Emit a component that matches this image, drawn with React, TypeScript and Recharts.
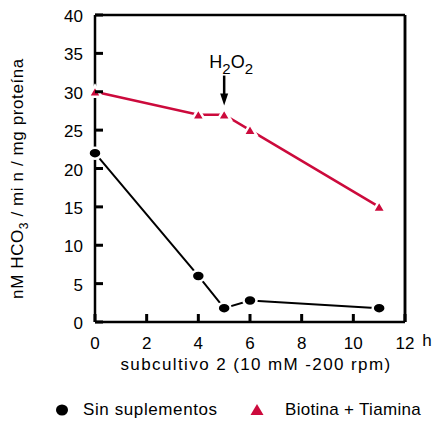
import React from 'react';
import {
  LineChart,
  Line,
  XAxis,
  YAxis,
  ReferenceLine,
  ReferenceDot,
} from 'recharts';

const hours = [0, 4, 5, 6, 11];
const sinSuplementos = [22, 6, 1.8, 2.8, 1.8];
const biotinaTiamina = [30, 27, 27, 25, 15];
const xTicks = [0, 2, 4, 6, 8, 10, 12];
const yTicks = [0, 5, 10, 15, 20, 25, 30, 35, 40];

const data = hours.map((h, i) => ({
  h,
  sin: sinSuplementos[i],
  bio: biotinaTiamina[i],
}));

const RED = '#cc0a3c';
const FONT = '"Liberation Sans", Arial, sans-serif';
const TICK = 8;
const FS = 17;

// ticks point inward, so they are drawn as small rects in the custom tick
const LeftTick = ({ x, y, payload }: any) => (
  <g>
    <rect x={x} y={y - 1.5} width={TICK} height={3} fill="#000" />
    <text x={x - 12} y={y + 7} textAnchor="end" fontSize={FS} fill="#000">
      {payload.value}
    </text>
  </g>
);

const RightTick = ({ x, y }: any) => (
  <rect x={x - TICK} y={y - 1.5} width={TICK} height={3} fill="#000" />
);

const BottomTick = ({ x, y, payload }: any) => (
  <g>
    <rect x={x - 1.5} y={y - TICK} width={3} height={TICK} fill="#000" />
    <text x={x} y={y + 27} textAnchor="middle" fontSize={FS} fill="#000">
      {payload.value}
    </text>
    {payload.value === 12 && (
      <text x={x + 22} y={y + 24} textAnchor="middle" fontSize={FS} fill="#000">
        h
      </text>
    )}
  </g>
);

const Circle = ({ cx, cy }: any) =>
  cx == null ? null : (
    <ellipse cx={cx} cy={cy} rx={6.5} ry={5.5} fill="#000" stroke="#fff" strokeWidth={2.5} />
  );

const Triangle = ({ cx, cy }: any) =>
  cx == null ? null : (
    <path
      d={`M${cx - 6.5},${cy + 5} L${cx + 6.5},${cy + 5} L${cx},${cy - 6} Z`}
      fill={RED}
      stroke="#fff"
      strokeWidth={2.5}
    />
  );

const Arrow = ({ cx, cy }: any) =>
  cx == null ? null : (
    <g>
      <rect x={cx - 1.25} y={cy - 30} width={2.5} height={22} fill="#000" />
      <path d={`M${cx - 4},${cy - 12} L${cx + 4},${cy - 12} L${cx},${cy} Z`} fill="#000" />
      <text x={cx + 7} y={cy - 38} textAnchor="middle" fontSize={18} fill="#000">
        H
        <tspan dy={6} fontSize={15}>2</tspan>
        <tspan dy={-6}>O</tspan>
        <tspan dy={6} fontSize={15}>2</tspan>
      </text>
    </g>
  );

const YLabel = ({ viewBox }: any) => {
  const cx = 23;
  const cy = viewBox.y + viewBox.height / 2 + 10;
  return (
    <text
      x={cx}
      y={cy}
      transform={`rotate(-90 ${cx} ${cy})`}
      textAnchor="middle"
      fontSize={FS}
      letterSpacing={0.6}
      fill="#000"
    >
      nM HCO
      <tspan dy={5} fontSize={12}>3</tspan>
      <tspan dy={-5}> / mi n / mg proteína</tspan>
    </text>
  );
};

export default function App() {
  return (
    <div style={{ position: 'absolute', left: 0, top: 0, width: 437, height: 421, fontFamily: FONT, background: '#fff' }}>
      <LineChart
        width={437}
        height={421}
        data={data}
        margin={{ top: 15, right: 30, bottom: 0, left: 0 }}
        style={{ fontFamily: FONT }}
      >
        <XAxis
          dataKey="h"
          type="number"
          domain={[0, 12]}
          ticks={xTicks}
          tickLine={false}
          tickSize={0}
          tickMargin={0}
          tick={<BottomTick />}
          axisLine={{ stroke: '#000', strokeWidth: 2.5 }}
          height={99}
          interval={0}
          label={{
            value: 'subcultivo 2  (10 mM -200 rpm)',
            position: 'insideTop',
            offset: 36,
            fontSize: FS,
            fill: '#000',
            letterSpacing: 1.4,
            dx: 6,
          }}
        />
        <YAxis
          yAxisId="l"
          type="number"
          domain={[0, 40]}
          ticks={yTicks}
          tickLine={false}
          tickSize={0}
          tickMargin={0}
          tick={<LeftTick />}
          axisLine={{ stroke: '#000', strokeWidth: 2.5 }}
          width={95}
          interval={0}
          label={<YLabel />}
        />
        <YAxis
          yAxisId="r"
          orientation="right"
          type="number"
          domain={[0, 40]}
          ticks={yTicks}
          tickLine={false}
          tickSize={0}
          tickMargin={0}
          tick={<RightTick />}
          axisLine={{ stroke: '#000', strokeWidth: 2.5 }}
          width={2}
        />
        <ReferenceLine yAxisId="l" y={40} stroke="#000" strokeWidth={2.5} />
        <ReferenceLine yAxisId="l" x={12} stroke="#000" strokeWidth={2.5} />
        <Line
          yAxisId="l"
          dataKey="bio"
          stroke={RED}
          strokeWidth={2.5}
          dot={<Triangle />}
          isAnimationActive={false}
        />
        <Line
          yAxisId="l"
          dataKey="sin"
          stroke="#000"
          strokeWidth={2}
          dot={<Circle />}
          isAnimationActive={false}
        />
        <ReferenceDot yAxisId="l" x={5} y={28.2} shape={<Arrow />} />
      </LineChart>
      <svg width={437} height={26} style={{ position: 'absolute', left: 0, top: 395 }}>
        <ellipse cx={62} cy={15} rx={6} ry={5.5} fill="#000" />
        <path d="M250.5,20 L263.5,20 L257,9 Z" fill={RED} />
        <text x={83} y={20} fontSize={FS} letterSpacing={0.6} fill="#000" fontFamily={FONT}>
          Sin suplementos
        </text>
        <text x={285} y={20} fontSize={FS} letterSpacing={0.3} fill="#000" fontFamily={FONT}>
          Biotina + Tiamina
        </text>
      </svg>
    </div>
  );
}
